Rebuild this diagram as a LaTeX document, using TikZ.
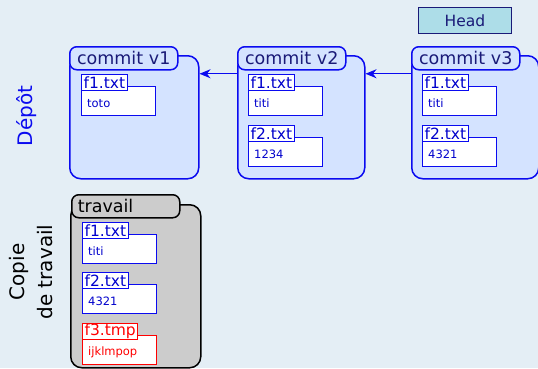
\documentclass[tikz,border=0pt]{standalone}
\usepackage{fontspec}
\setmainfont{DejaVu Sans}
\usetikzlibrary{arrows.meta}

\definecolor{fond}{HTML}{E4EEF5}
\definecolor{bleu}{HTML}{0A0AF0}
\definecolor{bleutexte}{HTML}{0000CC}
\definecolor{commitfill}{HTML}{D4E3FF}
\definecolor{headfill}{HTML}{ADDDE8}
\definecolor{headline}{HTML}{1A1A78}
\definecolor{gris}{HTML}{CCCCCC}

\tikzset{
  bodybox/.style={draw=bleu, fill=commitfill, line width=1.5pt, rounded corners=11pt, inner sep=0pt, anchor=north west},
  tabbox/.style={draw=bleu, fill=commitfill, line width=1.5pt, rounded corners=7pt, inner ysep=0pt, inner xsep=6pt,
    text width=96pt, align=center, minimum height=23pt, anchor=north west, text=headline,
    font=\fontsize{17.5}{20}\selectfont},
  filebody/.style={fill=white, line width=1.1pt, inner sep=0pt, minimum width=74pt, minimum height=29pt},
  filetitle/.style={fill=white, line width=1.1pt, inner xsep=2pt, inner ysep=0pt, minimum height=16pt,
    font=\fontsize{15.5}{17}\selectfont},
  filetext/.style={inner sep=0pt, font=\fontsize{11.5}{13}\selectfont},
  arr/.style={draw=bleu, line width=1.1pt, -{Stealth[length=11pt,width=9pt,inset=3.5pt]}},
  sidelabel/.style={rotate=90, align=center, font=\fontsize{20}{28}\selectfont},
}

% a file: name, x and y of the body's top-left corner, title, content, line colour, text colour
\newcommand{\fichier}[7]{%
  \node[filebody, draw=#6, anchor=north west] (#1b) at (#2,#3) {};
  \node[filetitle, draw=#6, text=#7, anchor=north west] (#1t) at (#2,#3-12) {#4};
  \node[filetext, text=#7, anchor=west] (#1c) at (#2+6,#3+17.5) {#5};
}

\begin{document}
\begin{tikzpicture}[x=1pt,y=-1pt]
  \fill[fond] (0,0) rectangle (538,368);
  \useasboundingbox (0,0) rectangle (538,368);

  % Head marker
  \node[draw=headline, fill=headfill, line width=0.9pt, minimum width=93pt, minimum height=26pt,
        inner sep=0pt, text=headline, font=\fontsize{15.5}{17}\selectfont, anchor=north west]
        (head) at (418,7) {Head};

  % commits
  \node[bodybox, minimum width=129pt, minimum height=123pt] (v1) at (69,55) {};
  \node[tabbox] (v1t) at (69,46) {commit v1};
  \node[bodybox, minimum width=127pt, minimum height=123pt] (v2) at (237,55) {};
  \node[tabbox] (v2t) at (237,46) {commit v2};
  \node[bodybox, minimum width=127pt, minimum height=123pt] (v3) at (411,55) {};
  \node[tabbox] (v3t) at (411,46) {commit v3};

  \fichier{aa}{81}{86}{f1.txt}{toto}{bleu}{bleutexte}
  \fichier{ba}{248}{86}{f1.txt}{titi}{bleu}{bleutexte}
  \fichier{bb}{248}{137}{f2.txt}{1234}{bleu}{bleutexte}
  \fichier{ca}{422}{86}{f1.txt}{titi}{bleu}{bleutexte}
  \fichier{cb}{422}{137}{f2.txt}{4321}{bleu}{bleutexte}

  % parent links
  \draw[arr] ([yshift=43.5pt]v2.west) -- ([yshift=43.5pt]v1.east);
  \draw[arr] ([yshift=43.5pt]v3.west) -- ([yshift=43.5pt]v2.east);

  % working copy
  \node[bodybox, draw=black, fill=gris, minimum width=130pt, minimum height=163pt] (wk) at (70,204) {};
  \node[tabbox, draw=black, fill=gris, text=black, align=left] (wkt) at (71,194) {travail};
  \fichier{wa}{82}{234}{f1.txt}{titi}{bleu}{bleutexte}
  \fichier{wb}{82}{284}{f2.txt}{4321}{bleu}{bleutexte}
  \fichier{wc}{82}{335}{f3.tmp}{ijklmpop}{red}{red}

  % side labels
  \node[sidelabel, text=bleu] (depot) at (27,116) {Dépôt};
  \node[sidelabel, text=black] (copie) at (31,272) {Copie\\de travail};
\end{tikzpicture}
\end{document}
